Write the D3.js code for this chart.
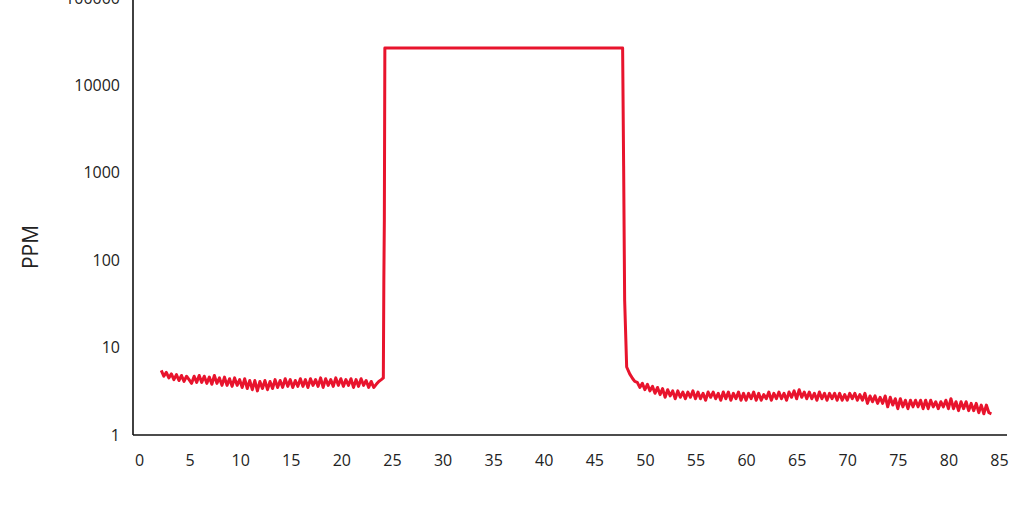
<!DOCTYPE html>
<html>
<head>
<meta charset="utf-8">
<script src="https://cdn.jsdelivr.net/npm/d3@7/dist/d3.min.js"></script>
<style>
  html, body { margin: 0; padding: 0; background: #fff; }
  svg { display: block; }
  text { font-family: "Open Sans", "Noto Sans", sans-serif; fill: #222; }
</style>
</head>
<body>
<svg id="chart" width="1024" height="512"></svg>
<script>
// ---- data ----
const xTicks = [0, 5, 10, 15, 20, 25, 30, 35, 40, 45, 50, 55, 60, 65, 70, 75, 80, 85];
const yTicks = [1, 10, 100, 1000, 10000, 100000];
const yLabel = "PPM";

// baseline before the exposure (sampled every 0.25 min from t = 2.2)
const preStart = 2.2;
const preStep = 0.25;
const preValues = [
  5.5, 4.7, 5.2, 4.5, 5.0, 4.3, 4.9, 4.2, 4.8, 4.1, 4.7, 4.3,
  3.9, 4.7, 4.0, 4.8, 4.0, 4.7, 3.9, 4.6, 3.8, 4.8, 3.9, 4.5,
  3.7, 4.6, 3.7, 4.4, 3.6, 4.5, 3.7, 4.3, 3.5, 4.4, 3.4, 4.2,
  3.3, 4.2, 3.2, 4.1, 3.4, 4.2, 3.3, 4.1, 3.4, 4.3, 3.5, 4.2,
  3.5, 4.4, 3.6, 4.3, 3.5, 4.2, 3.6, 4.4, 3.6, 4.3, 3.5, 4.4,
  3.7, 4.3, 3.6, 4.5, 3.5, 4.4, 3.7, 4.3, 3.6, 4.5, 3.7, 4.4,
  3.6, 4.3, 3.7, 4.4, 3.5, 4.3, 3.6, 4.4, 3.7, 4.2, 3.5, 4.1,
  3.5, 3.8, 4.1, 4.3
];

// rise, plateau and fall (time, ppm)
const peakTimes  = [24.15, 24.2, 24.25, 24.3, 47.8, 47.9, 48.0, 48.2, 48.5, 48.8, 49.0];
const peakValues = [4.5,   60,   290,   26800, 26800, 1200, 35,   6.0,  5.0,  4.4,  4.1];

// decay after the exposure (sampled every 0.25 min from t = 49.25)
const postStart = 49.25;
const postStep = 0.25;
const postValues = [
  4.0, 3.5, 3.9,
  3.3, 3.8, 3.2, 3.6,
  3.0, 3.5, 2.9, 3.4,
  2.7, 3.3, 2.8, 3.2,
  2.6, 3.2, 2.7, 3.1,
  2.6, 3.1, 2.7, 3.2,
  2.6, 3.1, 2.6, 3.0,
  2.5, 3.1, 2.7, 3.1,
  2.6, 3.0, 2.5, 3.1,
  2.6, 3.1, 2.5, 3.0,
  2.6, 3.1, 2.5, 3.0,
  2.5, 3.0, 2.6, 3.1,
  2.5, 3.0, 2.5, 2.9,
  2.6, 3.1, 2.5, 3.0,
  2.6, 3.1, 2.6, 3.0,
  2.5, 3.1, 2.7, 3.2,
  2.6, 3.3, 2.7, 3.1,
  2.6, 3.1, 2.6, 3.0,
  2.5, 3.1, 2.6, 3.0,
  2.5, 3.0, 2.6, 3.0,
  2.5, 3.0, 2.5, 2.9,
  2.5, 3.0, 2.6, 3.0,
  2.5, 2.9, 2.5, 3.0,
  2.3, 2.8, 2.4, 2.8,
  2.3, 2.7, 2.3, 2.8,
  2.1, 2.7, 2.2, 2.6,
  2.0, 2.6, 2.1, 2.5,
  2.0, 2.5, 2.1, 2.5,
  2.1, 2.5, 2.0, 2.5,
  2.0, 2.5, 2.1, 2.4,
  2.0, 2.4, 2.1, 2.5,
  2.0, 2.6, 2.0, 2.4,
  1.9, 2.4, 2.0, 2.4,
  1.9, 2.3, 1.9, 2.3,
  1.8, 2.2, 1.75, 2.2,
  1.8, 1.75
];

// ---- build series ----
const series = [];
preValues.forEach((v, i) => series.push([preStart + i * preStep, v]));
peakTimes.forEach((t, i) => series.push([t, peakValues[i]]));
postValues.forEach((v, i) => series.push([postStart + i * postStep, v]));

// ---- layout ----
const svg = d3.select("#chart");
const xAxisY = 435, yAxisX = 133;

const x = d3.scaleLinear().domain([0, 85]).range([139, 999]);
const y = d3.scaleLog().domain([1, 100000]).range([435, -2]);

// axes lines
svg.append("line")
  .attr("x1", yAxisX).attr("x2", 1007)
  .attr("y1", xAxisY).attr("y2", xAxisY)
  .attr("stroke", "#111").attr("stroke-width", 1.6);
svg.append("line")
  .attr("x1", yAxisX).attr("x2", yAxisX)
  .attr("y1", 0).attr("y2", xAxisY)
  .attr("stroke", "#111").attr("stroke-width", 1.6);

// x axis labels
const xAxis = d3.axisBottom(x).tickValues(xTicks).tickSize(0).tickPadding(20)
  .tickFormat(d3.format("d"));
const gx = svg.append("g").attr("transform", `translate(0,${xAxisY})`).call(xAxis);
gx.select(".domain").remove();
gx.selectAll("text").style("font-size", "16px").attr("fill", "#222")
  .style("font-family", "'Open Sans', sans-serif");

// y axis labels
const yAxis = d3.axisLeft(y).tickValues(yTicks).tickSize(0).tickPadding(13)
  .tickFormat(d3.format("d"));
const gy = svg.append("g").attr("transform", `translate(${yAxisX},0)`).call(yAxis);
gy.select(".domain").remove();
gy.selectAll("text").style("font-size", "16px").attr("fill", "#222")
  .style("font-family", "'Open Sans', sans-serif");

// y label
svg.append("text")
  .attr("transform", "translate(38,247) rotate(-90)")
  .attr("text-anchor", "middle")
  .style("font-size", "21px")
  .text(yLabel);

// line
const line = d3.line().x(d => x(d[0])).y(d => y(d[1]));
svg.append("path")
  .datum(series)
  .attr("d", line)
  .attr("fill", "none")
  .attr("stroke", "#e8142d")
  .attr("stroke-width", 3)
  .attr("stroke-linejoin", "round");
</script>
</body>
</html>
